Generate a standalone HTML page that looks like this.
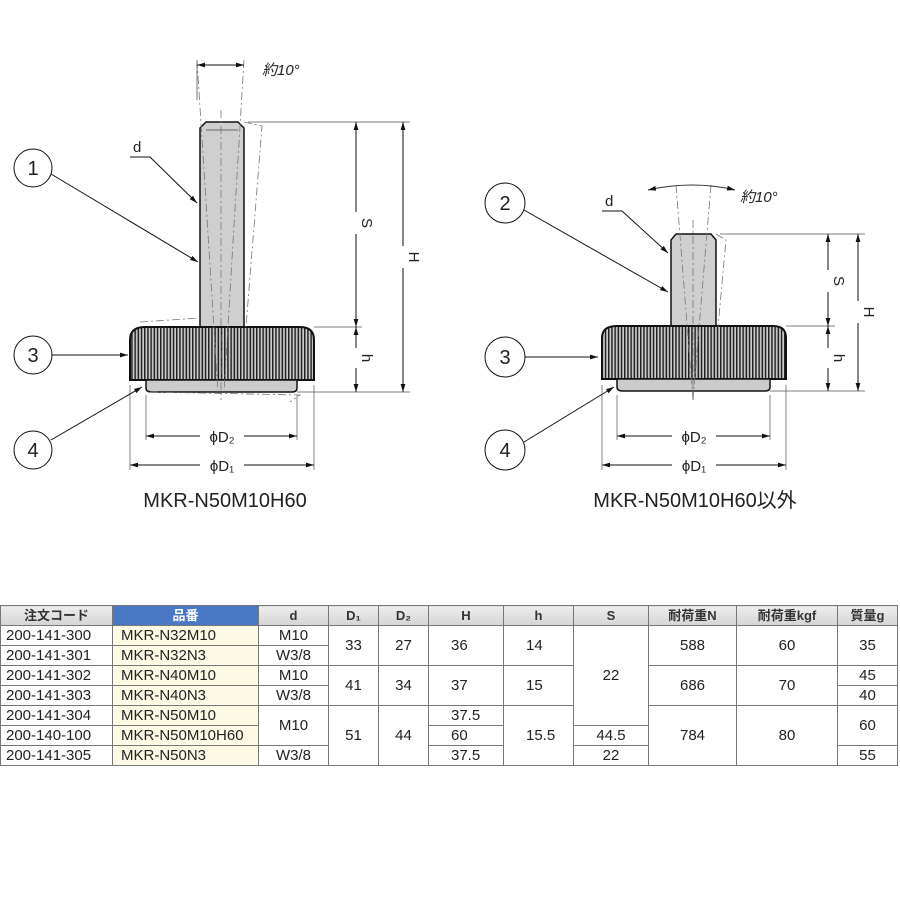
<!DOCTYPE html>
<html><head><meta charset="utf-8">
<style>
body{margin:0;background:#fff;width:900px;height:900px;overflow:hidden;position:relative;font-family:"Liberation Sans","Noto Sans CJK JP",sans-serif}
svg{position:absolute;left:0;top:0}
table{position:absolute;left:0;top:605px;border-collapse:collapse;table-layout:fixed;font-size:15px;color:#222}
td,th{border:1px solid #777;height:19px;padding:0;text-align:center;white-space:nowrap;overflow:hidden;line-height:19px}
th{background:linear-gradient(#eee,#d4d4d4);font-size:13px;font-weight:bold;color:#333}
th.b{background:#4a78c4;color:#fff}
td.p{background:#fdfbe6;text-align:left;padding-left:8px}
td.c{text-align:left;padding-left:5px}
td.l{text-align:left;padding-left:22px}
</style></head><body>
<svg width="900" height="600" viewBox="0 0 900 600">
<defs>
<pattern id="kn" width="3.2" height="10" patternUnits="userSpaceOnUse"><rect width="3.2" height="10" fill="#ccc"/><rect width="1.5" height="10" fill="#222"/></pattern>
<marker id="a" viewBox="0 0 10 10" refX="10" refY="5" markerWidth="8" markerHeight="8" orient="auto-start-reverse"><path d="M0,2 L10,5 L0,8z" fill="#111"/></marker>
</defs>
<g stroke="#111" fill="none" stroke-width="1">
<path d="M200,327 V128 L206,122 H238 L244,128 V327z" fill="#cfcfcf" stroke-width="1.5"/>
<line x1="206" y1="130" x2="238" y2="130" stroke="#666"/>
<path d="M130,380 V340 Q130,327 145,327 H300 Q314,327 314,340 V380z" fill="url(#kn)" stroke-width="2"/>
<path d="M146,380 V388 Q146,392 152,392 H292 Q297,392 297,388 V380z" fill="#ccc" stroke-width="1.5"/>
<g stroke="#777" stroke-dasharray="8,3,2,3" stroke-width="0.8">
<line x1="197" y1="60" x2="218" y2="392"/><line x1="244" y1="60" x2="224" y2="392"/>
<path d="M244,122 L262,126 L246,327"/><path d="M140,322 L200,318"/><path d="M150,392 L300,395 L290,402"/>
<line x1="221" y1="110" x2="221" y2="400"/>
</g>
<line x1="197" y1="60" x2="197" y2="100" stroke="#777"/>
<line x1="197" y1="65" x2="244" y2="65" marker-start="url(#a)" marker-end="url(#a)"/>
<line x1="248" y1="122" x2="410" y2="122" stroke="#555" stroke-width="0.7"/>
<line x1="314" y1="327" x2="362" y2="327" stroke="#555" stroke-width="0.7"/>
<line x1="297" y1="392" x2="410" y2="392" stroke="#555" stroke-width="0.7"/>
<line x1="356" y1="122" x2="356" y2="327" marker-start="url(#a)" marker-end="url(#a)"/>
<line x1="356" y1="327" x2="356" y2="392" marker-start="url(#a)" marker-end="url(#a)"/>
<line x1="403" y1="122" x2="403" y2="392" marker-start="url(#a)" marker-end="url(#a)"/>
<line x1="146" y1="395" x2="146" y2="440" stroke="#555" stroke-width="0.7"/>
<line x1="297" y1="395" x2="297" y2="440" stroke="#555" stroke-width="0.7"/>
<line x1="130" y1="385" x2="130" y2="470" stroke="#555" stroke-width="0.7"/>
<line x1="314" y1="385" x2="314" y2="470" stroke="#555" stroke-width="0.7"/>
<line x1="146" y1="436" x2="297" y2="436" marker-start="url(#a)" marker-end="url(#a)"/>
<line x1="130" y1="465" x2="314" y2="465" marker-start="url(#a)" marker-end="url(#a)"/>
<circle cx="33" cy="168" r="19" fill="#fff"/><circle cx="33" cy="355" r="19" fill="#fff"/><circle cx="33" cy="450" r="19" fill="#fff"/>
<line x1="51" y1="174" x2="198" y2="262" marker-end="url(#a)"/>
<line x1="52" y1="355" x2="128" y2="355" marker-end="url(#a)"/>
<line x1="51" y1="440" x2="142" y2="387" marker-end="url(#a)"/>
<path d="M130,157 H150 L197,203" marker-end="url(#a)"/>
<path d="M671,327 V240 L676,234 H711 L716,240 V327z" fill="#cfcfcf" stroke-width="1.5"/>
<path d="M602,379 V338 Q602,326 617,326 H773 Q786,326 786,338 V379z" fill="url(#kn)" stroke-width="2"/>
<path d="M617,379 V387 Q617,391 623,391 H765 Q770,391 770,387 V379z" fill="#ccc" stroke-width="1.5"/>
<g stroke="#777" stroke-dasharray="8,3,2,3" stroke-width="0.8">
<line x1="676" y1="185" x2="693" y2="400"/><line x1="711" y1="185" x2="693" y2="400"/>
<path d="M716,234 L726,240 L718,327"/><line x1="693" y1="220" x2="693" y2="400"/>
</g>
<path d="M648,190 Q693,180 735,190" marker-start="url(#a)" marker-end="url(#a)" stroke="#333"/>
<line x1="720" y1="234" x2="865" y2="234" stroke="#555" stroke-width="0.7"/>
<line x1="786" y1="326" x2="835" y2="326" stroke="#555" stroke-width="0.7"/>
<line x1="770" y1="391" x2="865" y2="391" stroke="#555" stroke-width="0.7"/>
<line x1="828" y1="234" x2="828" y2="326" marker-start="url(#a)" marker-end="url(#a)"/>
<line x1="828" y1="326" x2="828" y2="391" marker-start="url(#a)" marker-end="url(#a)"/>
<line x1="858" y1="234" x2="858" y2="391" marker-start="url(#a)" marker-end="url(#a)"/>
<line x1="617" y1="395" x2="617" y2="440" stroke="#555" stroke-width="0.7"/>
<line x1="770" y1="395" x2="770" y2="440" stroke="#555" stroke-width="0.7"/>
<line x1="602" y1="385" x2="602" y2="470" stroke="#555" stroke-width="0.7"/>
<line x1="786" y1="385" x2="786" y2="470" stroke="#555" stroke-width="0.7"/>
<line x1="617" y1="436" x2="770" y2="436" marker-start="url(#a)" marker-end="url(#a)"/>
<line x1="602" y1="465" x2="786" y2="465" marker-start="url(#a)" marker-end="url(#a)"/>
<circle cx="505" cy="203" r="20" fill="#fff"/><circle cx="505" cy="357" r="20" fill="#fff"/><circle cx="505" cy="450" r="20" fill="#fff"/>
<line x1="524" y1="210" x2="668" y2="292" marker-end="url(#a)"/>
<line x1="525" y1="357" x2="598" y2="357" marker-end="url(#a)"/>
<line x1="524" y1="442" x2="614" y2="387" marker-end="url(#a)"/>
<path d="M602,211 H622 L668,253" marker-end="url(#a)"/>
</g>
<g font-family="Liberation Sans, Noto Sans CJK JP, sans-serif" fill="#222">
<text x="33" y="175" font-size="20" text-anchor="middle">1</text>
<text x="33" y="362" font-size="20" text-anchor="middle">3</text>
<text x="33" y="457" font-size="20" text-anchor="middle">4</text>
<text x="505" y="210" font-size="20" text-anchor="middle">2</text>
<text x="505" y="364" font-size="20" text-anchor="middle">3</text>
<text x="505" y="457" font-size="20" text-anchor="middle">4</text>
<text x="133" y="152" font-size="15">d</text>
<text x="605" y="206" font-size="15">d</text>
<text x="262" y="75" font-size="15" font-style="italic">約10°</text>
<text x="740" y="202" font-size="15" font-style="italic">約10°</text>
<rect x="200" y="428" width="44" height="16" fill="#fff"/><text x="222" y="442" font-size="15" text-anchor="middle">ϕD₂</text>
<rect x="200" y="457" width="44" height="16" fill="#fff"/><text x="222" y="471" font-size="15" text-anchor="middle">ϕD₁</text>
<rect x="672" y="428" width="44" height="16" fill="#fff"/><text x="694" y="442" font-size="15" text-anchor="middle">ϕD₂</text>
<rect x="672" y="457" width="44" height="16" fill="#fff"/><text x="694" y="471" font-size="15" text-anchor="middle">ϕD₁</text>
<g font-size="15">
<rect x="348" y="212" width="16" height="22" fill="#fff"/><text transform="translate(362,223) rotate(90)" text-anchor="middle">S</text>
<rect x="348" y="348" width="16" height="20" fill="#fff"/><text transform="translate(362,358) rotate(90)" text-anchor="middle">h</text>
<rect x="395" y="246" width="16" height="22" fill="#fff"/><text transform="translate(409,257) rotate(90)" text-anchor="middle">H</text>
<rect x="820" y="270" width="16" height="22" fill="#fff"/><text transform="translate(834,281) rotate(90)" text-anchor="middle">S</text>
<rect x="820" y="348" width="16" height="20" fill="#fff"/><text transform="translate(834,358) rotate(90)" text-anchor="middle">h</text>
<rect x="850" y="301" width="16" height="22" fill="#fff"/><text transform="translate(864,312) rotate(90)" text-anchor="middle">H</text>
</g>
<text x="225" y="507" font-size="20" text-anchor="middle">MKR-N50M10H60</text>
<text x="695" y="507" font-size="20" text-anchor="middle">MKR-N50M10H60以外</text>
</g>
</svg>
<table>
<colgroup><col style="width:112px"><col style="width:146px"><col style="width:70px"><col style="width:50px"><col style="width:50px"><col style="width:75px"><col style="width:70px"><col style="width:75px"><col style="width:88px"><col style="width:101px"><col style="width:60px"></colgroup>
<tr><th>注文コード</th><th class="b">品番</th><th>d</th><th>D₁</th><th>D₂</th><th>H</th><th>h</th><th>S</th><th>耐荷重N</th><th>耐荷重kgf</th><th>質量g</th></tr>
<tr><td class="c">200-141-300</td><td class="p">MKR-N32M10</td><td>M10</td><td rowspan="2">33</td><td rowspan="2">27</td><td rowspan="2" class="l">36</td><td rowspan="2" class="l">14</td><td rowspan="5">22</td><td rowspan="2">588</td><td rowspan="2">60</td><td rowspan="2">35</td></tr>
<tr><td class="c">200-141-301</td><td class="p">MKR-N32N3</td><td>W3/8</td></tr>
<tr><td class="c">200-141-302</td><td class="p">MKR-N40M10</td><td>M10</td><td rowspan="2">41</td><td rowspan="2">34</td><td rowspan="2" class="l">37</td><td rowspan="2" class="l">15</td><td rowspan="2">686</td><td rowspan="2">70</td><td>45</td></tr>
<tr><td class="c">200-141-303</td><td class="p">MKR-N40N3</td><td>W3/8</td><td>40</td></tr>
<tr><td class="c">200-141-304</td><td class="p">MKR-N50M10</td><td rowspan="2">M10</td><td rowspan="3">51</td><td rowspan="3">44</td><td class="l">37.5</td><td rowspan="3" class="l">15.5</td><td rowspan="3">784</td><td rowspan="3">80</td><td rowspan="2">60</td></tr>
<tr><td class="c">200-140-100</td><td class="p">MKR-N50M10H60</td><td class="l">60</td><td>44.5</td></tr>
<tr><td class="c">200-141-305</td><td class="p">MKR-N50N3</td><td>W3/8</td><td class="l">37.5</td><td>22</td><td>55</td></tr>
</table>
</body></html>
